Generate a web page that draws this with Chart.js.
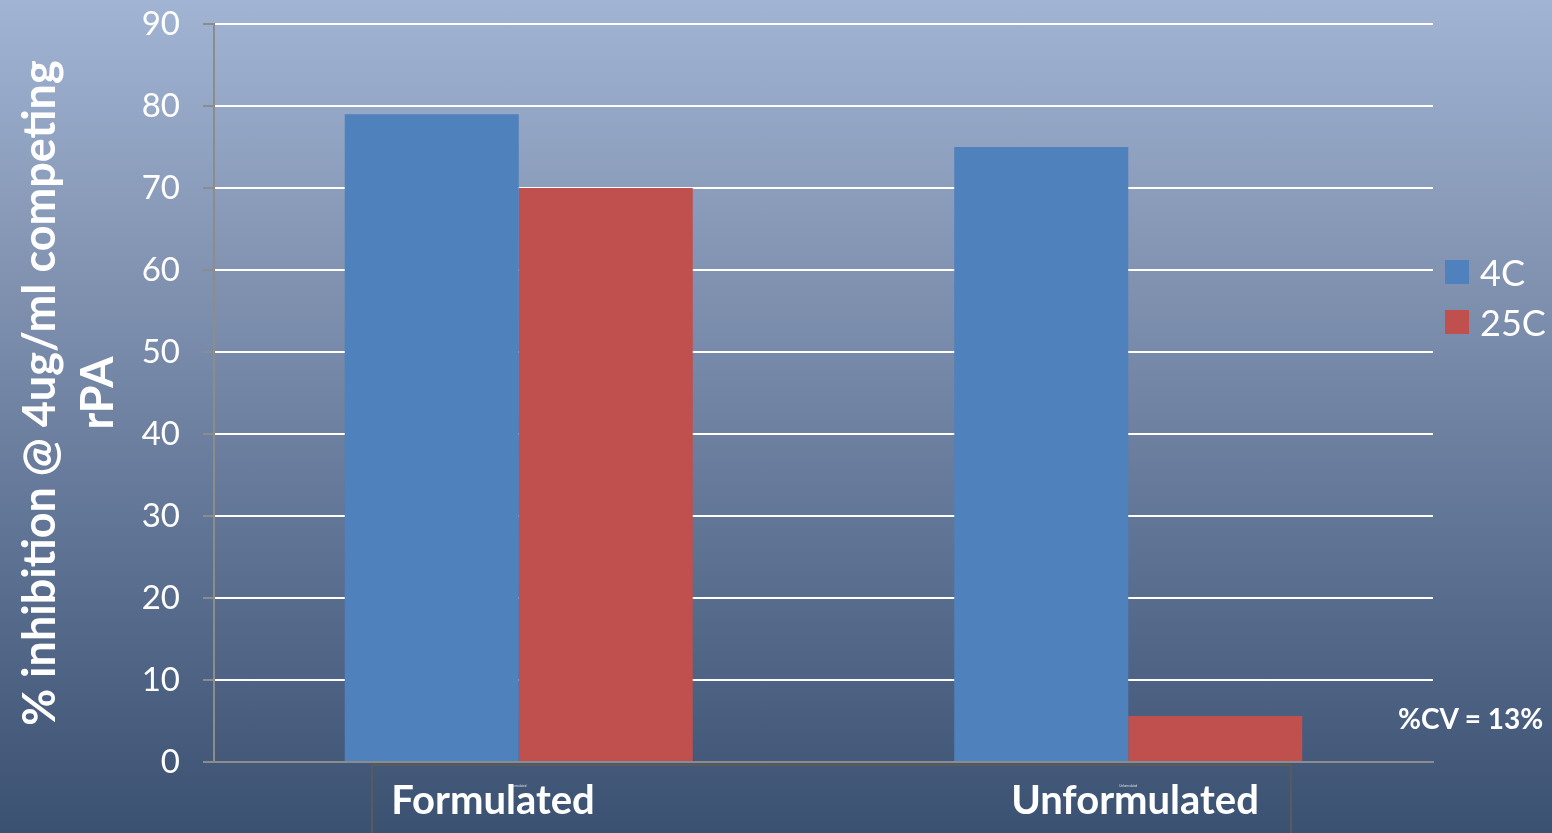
<!DOCTYPE html>
<html>
<head>
<meta charset="utf-8">
<script src="https://cdn.jsdelivr.net/npm/chart.js@4/dist/chart.umd.min.js"></script>
<style>
  html, body { margin: 0; padding: 0; width: 1552px; height: 833px; overflow: hidden; }
  body {
    position: relative;
    background: linear-gradient(to bottom, #a2b4d3 0%, #8091b0 35%, #5f7394 65%, #3b5172 100%);
    font-family: Lato, "Open Sans", sans-serif;
  }
  #wrap { position: absolute; left: 0; top: 0; width: 1552px; height: 833px; }
  .cat {
    position: absolute; top: 773px; color: #fff; font-weight: bold; font-size: 40px;
    transform: translateX(-50%); white-space: nowrap; line-height: 52px;
  }
  #catbox {
    position: absolute; left: 371px; top: 764px; width: 917px; height: 80px;
    border: 2px solid #5a5a5a; border-bottom: none;
  }
  #legend { position: absolute; left: 1445px; top: 247px; }
  .lg { display: flex; align-items: center; height: 50px; color: #fff; font-size: 36px; }
  .sw { width: 24px; height: 24px; margin-right: 11px; }
  #cv {
    position: absolute; left: 1398px; top: 701px; color: #fff; font-weight: bold;
    font-size: 28px; white-space: nowrap;
  }
</style>
</head>
<body>
<div id="catbox"></div>
<div id="wrap"><canvas id="c" width="1552" height="833"></canvas></div>
<div class="cat" style="left:493px">Formulated</div>
<div class="cat" style="left:1135px">Unformulated</div>
<div id="legend"></div>
<div id="cv">%CV = 13%</div>
<script>
// Categories and series
const categories = ['Formulated', 'Unformulated'];
const seriesNames = ['4C', '25C'];
const values4C = [79, 75];
const values25C = [70, 5.6];
const seriesColors = ['#4f81bd', '#c0504d'];
const yTicks = [0, 10, 20, 30, 40, 50, 60, 70, 80, 90];

const seriesValues = [values4C, values25C];

// HTML legend built from the series
const legendEl = document.getElementById('legend');
seriesNames.forEach((name, i) => {
  const row = document.createElement('div');
  row.className = 'lg';
  const sw = document.createElement('div');
  sw.className = 'sw';
  sw.style.background = seriesColors[i];
  const tx = document.createElement('span');
  tx.textContent = name;
  row.appendChild(sw);
  row.appendChild(tx);
  legendEl.appendChild(row);
});

const axisGrey = '#8c8c8c';

new Chart(document.getElementById('c'), {
  type: 'bar',
  data: {
    labels: categories,
    datasets: seriesNames.map((name, i) => ({
      label: name,
      data: seriesValues[i],
      backgroundColor: seriesColors[i],
      borderWidth: 0,
      categoryPercentage: 0.571,
      barPercentage: 1.0
    }))
  },
  options: {
    responsive: false,
    animation: false,
    devicePixelRatio: 1,
    layout: { padding: { top: 24, right: 119, bottom: 0, left: 0 } },
    plugins: {
      legend: { display: false },
      tooltip: { enabled: false }
    },
    scales: {
      x: {
        grid: { display: false },
        border: { display: true, color: axisGrey, width: 2 },
        ticks: { color: 'rgba(255,255,255,0.8)', font: { size: 3 }, padding: 14 },
        afterFit: (s) => { s.height = 71; }
      },
      y: {
        min: 0,
        max: 90,
        afterBuildTicks: (s) => { s.ticks = yTicks.map(v => ({ value: v })); },
        ticks: {
          color: '#ffffff',
          font: { family: 'Lato', size: 33 },
          padding: 23
        },
        grid: {
          color: (ctx) => (ctx.tick && ctx.tick.value === 0 ? axisGrey : '#ffffff'),
          lineWidth: 2,
          drawTicks: true,
          tickLength: 11,
          tickColor: axisGrey,
          tickWidth: 2
        },
        border: { display: true, color: axisGrey, width: 2 },
        title: {
          display: true,
          text: ['% inhibition @ 4ug/ml competing', 'rPA'],
          color: '#ffffff',
          font: { family: 'Lato', size: 45, weight: 'bold', lineHeight: 1.28 },
          padding: { top: 12, bottom: 0 }
        },
        afterFit: (s) => {
          s.width = 214;
          s.paddingTop = 0;
          s.paddingBottom = 0;
        }
      }
    }
  }
});
</script>
</body>
</html>
